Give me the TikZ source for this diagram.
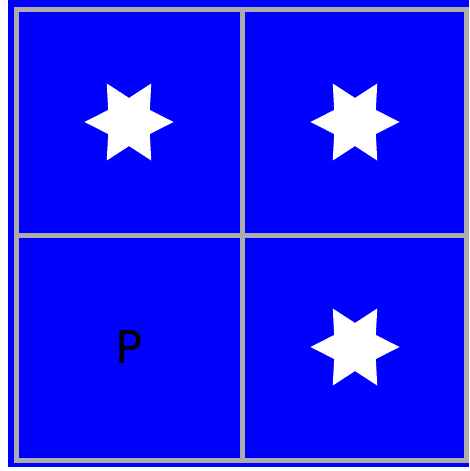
\documentclass[tikz,border=0pt]{standalone}
\usepackage{fontspec}
\setmainfont{DejaVu Sans}
\usetikzlibrary{shapes.geometric}
\definecolor{bgblue}{RGB}{0,0,255}
\definecolor{gridgray}{RGB}{172,172,172}
\tikzset{
  whitestar/.style={star, star points=6, star point ratio=1.85, shape border rotate=30,
    minimum size=89pt, inner sep=0pt, fill=white, draw=none},
  gridline/.style={draw=gridgray, line width=5pt},
  letter/.style={font=\fontsize{45}{45}\selectfont, text=black, inner sep=0pt}
}
\begin{document}
\begin{tikzpicture}[x=1pt,y=-1pt]
\useasboundingbox (0,0) rectangle (469,471);
\fill[bgblue] (8,0) rectangle (469,467);
\draw[gridline] (16,9.5) rectangle (466.5,460.5);
\draw[gridline] (242,9.5) -- (242,460.5);
\draw[gridline] (16,235.5) -- (466.5,235.5);
\node[whitestar] (s1) at (129,122) {};
\node[whitestar] (s2) at (355,122) {};
\node[whitestar] (s3) at (355,347) {};
\node[letter] (p) at (129,347) {P};
\end{tikzpicture}
\end{document}
